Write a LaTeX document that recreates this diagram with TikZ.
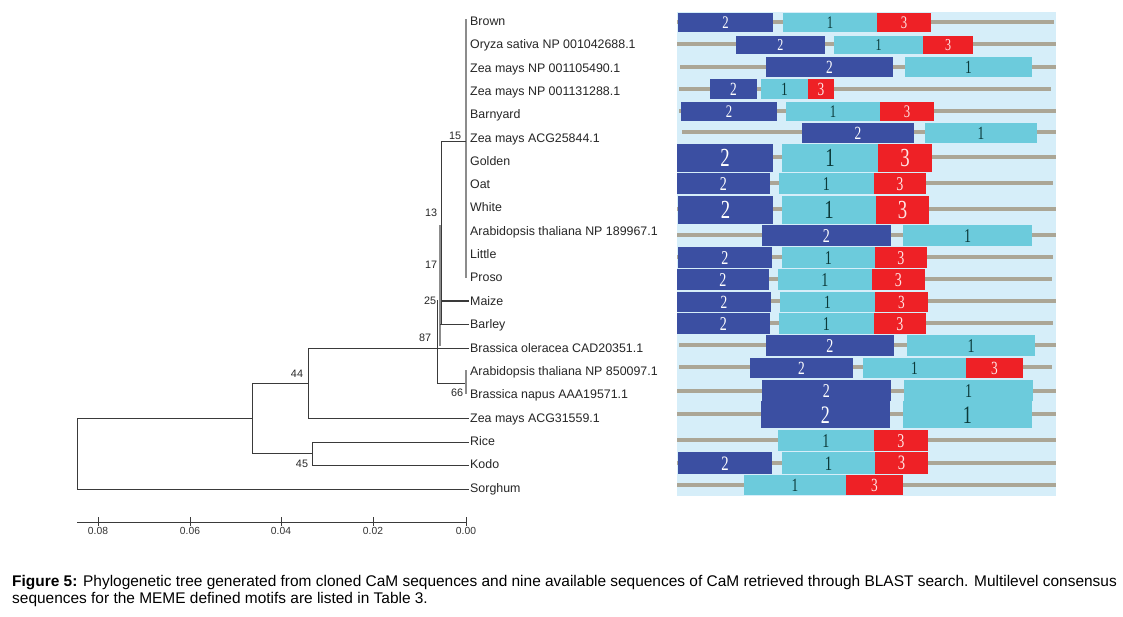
\documentclass[tikz,border=0pt]{standalone}
\usepackage{fontspec}
\setmainfont{Liberation Sans}
\newfontfamily\numfont[FakeStretch=0.72]{Liberation Serif}
\newfontfamily\capfont{Liberation Sans}
\definecolor{mtwo}{HTML}{3B4FA2}
\definecolor{mone}{HTML}{6CCBDC}
\definecolor{mthree}{HTML}{EE2126}
\definecolor{panelbg}{HTML}{D6EEF9}
\definecolor{seqgray}{HTML}{ABA696}
\definecolor{treeline}{HTML}{3A3A3A}
\definecolor{treegray}{HTML}{8C8C8C}
\definecolor{onetext}{HTML}{0B3A3A}
\newcommand\motif[5]{%
  \pgfmathsetmacro\mfs{0.93*(#5-#4)}%
  \fill[m#1] (#2,#4) rectangle (#3,#5);
  \node[txt#1, font=\numfont\fontsize{\mfs pt}{\mfs pt}\selectfont] at ({(#2+#3)/2},{(#4+#5)/2+0.3}) {\csname num#1\endcsname};}
\newcommand\numtwo{2}
\newcommand\numone{1}
\newcommand\numthree{3}
\begin{document}
\begin{tikzpicture}[x=1pt,y=-1pt,
  lab/.style={anchor=base west, inner sep=0pt, font=\fontsize{12.4pt}{14pt}\selectfont, text=black!85},
  boot/.style={inner sep=0pt, font=\fontsize{10.8pt}{12pt}\selectfont, text=black!85},
  scl/.style={inner sep=0pt, anchor=north, font=\fontsize{10.3pt}{12pt}\selectfont, text=black!80},
  br/.style={draw=treeline, line width=1pt},
  brg/.style={draw=treegray, line width=2pt},
  seq/.style={draw=seqgray, line width=3.8pt},
  txttwo/.style={text=white, inner sep=0pt},
  txtone/.style={text=onetext, inner sep=0pt},
  txtthree/.style={text=white!90!red, inner sep=0pt},
  captxt/.style={anchor=base west, inner sep=0pt, text=black, font=\capfont\fontsize{15.45pt}{17pt}\selectfont}]
\useasboundingbox (0,0) rectangle (1123,616);
\fill[white] (0,0) rectangle (1123,616);

% ---------------- tree labels ----------------
\foreach \n/\y/\t in {
  1/21/Brown, 2/44/Oryza sativa NP 001042688.1, 3/68/Zea mays NP 001105490.1,
  4/91/Zea mays NP 001131288.1, 5/114/Barnyard, 6/138/Zea mays ACG25844.1,
  7/161/Golden, 8/184/Oat, 9/207/White, 10/231/Arabidopsis thaliana NP 189967.1,
  11/254/Little, 12/277/Proso, 13/301/Maize, 14/324/Barley,
  15/348/Brassica oleracea CAD20351.1, 16/371/Arabidopsis thaliana NP 850097.1,
  17/394/Brassica napus AAA19571.1, 18/418/Zea mays ACG31559.1,
  19/441/Rice, 20/464/Kodo, 21/488/Sorghum}
  \node[lab] (t\n) at (470,\y+4.4) {\t};

% ---------------- tree branches ----------------
\coordinate (n15) at (441,141);
\coordinate (n87) at (437,348);
\coordinate (n66) at (466,383);
\coordinate (n44) at (308,383);
\coordinate (n45) at (312,453);
\coordinate (nA) at (252,418);
\coordinate (root) at (77,418);

\draw[brg] (466,19) -- (466,278);
\draw[br] (n15) -- (466,141);
\draw[br] (n15) -- (441,324);
\draw[brg] (440,225) -- (440,346);
\draw[br] (437,300) -- (437,383);
\draw[br, line width=1.2pt] (441,301) -- (469,301);
\draw[br, line width=0.7pt] (440,324) -- (469,324);
\draw[br, line width=0.8pt] (437,348) -- (469,348);
\draw[br] (437,383) -- (n66);
\draw[brg, line width=1.6pt] (466,370) -- (466,394);
\draw[br] (308,348) -- (n87);
\draw[br] (308,348) -- (308,418) -- (469,418);
\draw[br] (252,383) -- (n44);
\draw[br] (252,383) -- (252,453) -- (n45);
\draw[br] (312,442) -- (312,465);
\draw[br] (312,442) -- (469,442);
\draw[br] (312,465) -- (469,465);
\draw[br] (nA) -- (root);
\draw[br] (77,418) -- (77,489) -- (469,489);

% bootstrap values
\node[boot] (b15) at (455,136) {15};
\node[boot] (b13) at (431,213) {13};
\node[boot] (b17) at (431,265) {17};
\node[boot] (b25) at (430,301) {25};
\node[boot] (b87) at (425,338) {87};
\node[boot] (b66) at (457,393) {66};
\node[boot] (b44) at (297,374) {44};
\node[boot] (b45) at (302,464) {45};

% ---------------- scale axis ----------------
\draw[br] (77,522) -- (466,522);
\foreach \x/\l in {98/0.08, 190/0.06, 281/0.04, 373/0.02, 466/0.00}{
  \draw[br] (\x,517) -- (\x,526);
  \node[scl] at (\x,527) {\l};
}

% ---------------- motif panel ----------------
\fill[panelbg] (677,12) rectangle (1056,496);
% row 1
\draw[seq] (677,22) -- (1054,22);
\motif{two}{678}{773}{13}{32}\motif{one}{783}{877}{13}{32}\motif{three}{877}{931}{13}{32}
% row 2
\draw[seq] (677,44) -- (1056,44);
\motif{two}{736}{825}{36}{54}\motif{one}{834}{923}{36}{54}\motif{three}{923}{973}{36}{54}
% row 3
\draw[seq] (680,67) -- (1056,67);
\motif{two}{766}{893}{57}{77}\motif{one}{905}{1032}{57}{77}
% row 4
\draw[seq] (679,89) -- (1051,89);
\motif{two}{710}{757}{79}{99}\motif{one}{761}{808}{79}{99}\motif{three}{808}{834}{79}{99}
% row 5
\draw[seq] (679,111) -- (1056,111);
\motif{two}{681}{777}{102}{121}\motif{one}{786}{880}{102}{121}\motif{three}{880}{934}{102}{121}
% row 6
\draw[seq] (682,132) -- (1056,132);
\motif{two}{802}{914}{123}{143}\motif{one}{925}{1037}{123}{143}
% row 7
\draw[seq] (677,157) -- (1056,157);
\motif{two}{677}{773}{144}{172}\motif{one}{782}{878}{144}{172}\motif{three}{878}{932}{144}{172}
% row 8
\draw[seq] (677,183) -- (1053,183);
\motif{two}{677}{770}{173}{194}\motif{one}{779}{874}{173}{194}\motif{three}{874}{926}{173}{194}
% row 9
\draw[seq] (677,209) -- (1056,209);
\motif{two}{678}{773}{196}{224}\motif{one}{782}{876}{196}{224}\motif{three}{876}{929}{196}{224}
% row 10
\draw[seq] (677,235) -- (1056,235);
\motif{two}{762}{891}{225}{246}\motif{one}{903}{1032}{225}{246}
% row 11
\draw[seq] (677,257) -- (1053,257);
\motif{two}{678}{772}{247}{268}\motif{one}{782}{875}{247}{268}\motif{three}{875}{927}{247}{268}
% row 12
\draw[seq] (677,279) -- (1052,279);
\motif{two}{677}{769}{269}{290}\motif{one}{778}{872}{269}{290}\motif{three}{872}{925}{269}{290}
% row 13
\draw[seq] (677,301) -- (1056,301);
\motif{two}{677}{771}{292}{312}\motif{one}{780}{875}{292}{312}\motif{three}{875}{928}{292}{312}
% row 14
\draw[seq] (677,323) -- (1053,323);
\motif{two}{677}{770}{313}{334}\motif{one}{779}{874}{313}{334}\motif{three}{874}{926}{313}{334}
% row 15
\draw[seq] (679,345) -- (1056,345);
\motif{two}{766}{894}{335}{356}\motif{one}{907}{1035}{335}{356}
% row 16
\draw[seq] (679,367) -- (1052,367);
\motif{two}{750}{853}{358}{378}\motif{one}{863}{966}{358}{378}\motif{three}{966}{1023}{358}{378}
% row 17
\draw[seq] (677,391) -- (1056,391);
\motif{two}{762}{891}{380}{401}\motif{one}{904}{1033}{380}{401}
% row 18
\draw[seq] (677,414) -- (1056,414);
\motif{two}{761}{890}{401}{428}\motif{one}{903}{1032}{401}{428}
% row 19
\draw[seq] (677,440) -- (1056,440);
\motif{one}{778}{874}{430}{451}\motif{three}{874}{928}{430}{451}
% row 20
\draw[seq] (677,463) -- (1056,463);
\motif{two}{678}{772}{452}{474}\motif{one}{782}{875}{452}{474}\motif{three}{875}{928}{452}{474}
% row 21
\draw[seq] (677,485) -- (1056,485);
\motif{one}{744}{846}{475}{495}\motif{three}{846}{903}{475}{495}

% ---------------- caption ----------------
\node[captxt] (cap1) at (12,586)
  {\textbf{Figure 5:} Phylogenetic tree generated from cloned CaM sequences and nine available sequences of CaM retrieved through BLAST search. Multilevel consensus};
\node[captxt] (cap2) at (12,603)
  {sequences for the MEME defined motifs are listed in Table 3.};
\end{tikzpicture}
\end{document}
